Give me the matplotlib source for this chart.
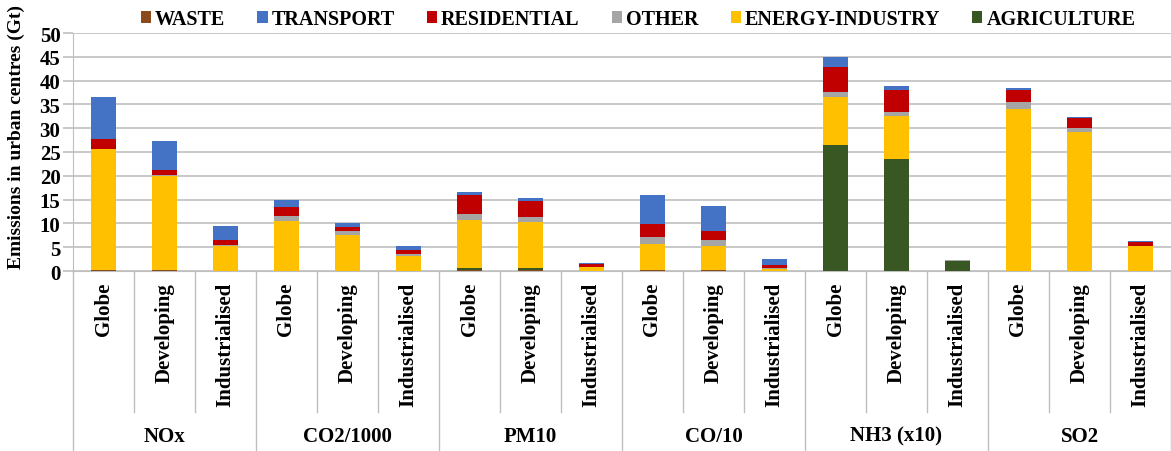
import matplotlib.pyplot as plt
import numpy as np

plt.rcParams['font.family'] = ['Liberation Serif', 'DejaVu Serif']
plt.rcParams['font.weight'] = 'bold'

# categories
groups = ['NOx', 'CO2/1000', 'PM10', 'CO/10', 'NH3 (x10)', 'SO2']
regions = ['Globe', 'Developing', 'Industrialised']

# sector values per bar (6 groups x 3 regions)
waste       = [0.2, 0.2, 0.1,  0.1, 0.1, 0.1,  0.3, 0.3, 0.0,  0.2, 0.2, 0.0,  0.0, 0.0, 0.0,  0.0, 0.0, 0.0]
agriculture = [0.0, 0.0, 0.0,  0.0, 0.0, 0.0,  0.4, 0.3, 0.0,  0.0, 0.0, 0.0, 26.5, 23.5, 2.2, 0.0, 0.0, 0.0]
energy      = [25.4, 19.8, 5.2, 10.5, 7.5, 3.1, 10.0, 9.6, 0.8, 5.4, 5.0, 0.5, 10.0, 9.0, 0.0, 34.0, 29.1, 5.2]
other       = [0.1, 0.1, 0.2,  1.0, 0.7, 0.4,  1.2, 1.1, 0.0,  1.6, 1.4, 0.2,  1.2, 0.8, 0.1,  1.4, 0.9, 0.1]
residential = [2.1, 1.1, 1.0,  1.8, 0.9, 0.9,  4.1, 3.5, 0.6,  2.6, 1.9, 0.5,  5.1, 4.8, 0.0,  2.7, 2.2, 0.7]
transport   = [8.8, 6.1, 3.0,  1.6, 0.8, 0.7,  0.5, 0.5, 0.2,  6.1, 5.2, 1.3,  2.1, 0.8, 0.1,  0.3, 0.2, 0.2]

# stacked bottom -> top
series = [
    ('WASTE', waste, '#8B4A1C'),
    ('AGRICULTURE', agriculture, '#385723'),
    ('ENERGY-INDUSTRY', energy, '#FFC000'),
    ('OTHER', other, '#A5A5A5'),
    ('RESIDENTIAL', residential, '#C00000'),
    ('TRANSPORT', transport, '#4472C4'),
]
legend_order = ['WASTE', 'TRANSPORT', 'RESIDENTIAL', 'OTHER', 'ENERGY-INDUSTRY', 'AGRICULTURE']

n = len(groups) * len(regions)
x = np.arange(n)

fig = plt.figure(figsize=(11.71, 4.52), dpi=100)
ax = fig.add_axes([73 / 1171, 1 - 272 / 452, 1 - 73 / 1171, (272 - 34) / 452])

bottom = np.zeros(n)
handles = {}
for name, vals, col in series:
    vals = np.array(vals)
    b = ax.bar(x, vals, 0.41, bottom=bottom, color=col, label=name, zorder=3)
    handles[name] = b
    bottom += vals

ax.set_xlim(-0.5, n - 0.5)
ax.set_ylim(0, 50)
ax.set_yticks(range(0, 51, 5))
ax.tick_params(axis='y', length=7, color='#BFBFBF', width=1.2, labelsize=15, pad=2)
ax.set_xticks([])
ax.grid(axis='y', color='#BFBFBF', linewidth=1.2, zorder=0)
for s in ['top', 'right']:
    ax.spines[s].set_visible(False)
ax.spines['bottom'].set_color('#BFBFBF')
ax.spines['left'].set_color('#BFBFBF')
ax.set_ylabel('Emissions in urban centres (Gt)', fontsize=14, fontweight='bold')
ax.yaxis.set_label_coords(-0.044, 0.567)

# multi-level category axis
trans = ax.get_xaxis_transform()
for i in range(n):
    ax.text(x[i], -0.045, regions[i % 3], rotation=90, ha='center', va='top',
            fontsize=15, fontweight='bold', transform=trans)
for i in range(n + 1):
    xe = i - 0.5
    yend = -0.80 if i % 3 == 0 else -0.592
    ax.plot([xe, xe], [0, yend], color='#BFBFBF', linewidth=1, transform=trans, clip_on=False)
for g, name in enumerate(groups):
    ax.text(g * 3 + 1, -0.693, name, ha='center', va='center', fontsize=15,
            fontweight='bold', transform=trans)

fig.legend([handles[k] for k in legend_order], legend_order, ncol=6,
           loc='center', bbox_to_anchor=(0.545, 1 - 20 / 452), frameon=False,
           fontsize=14.5, handlelength=0.5, handleheight=0.5, handletextpad=0.2,
           columnspacing=1.6)

fig.savefig('out.png', dpi=100)
